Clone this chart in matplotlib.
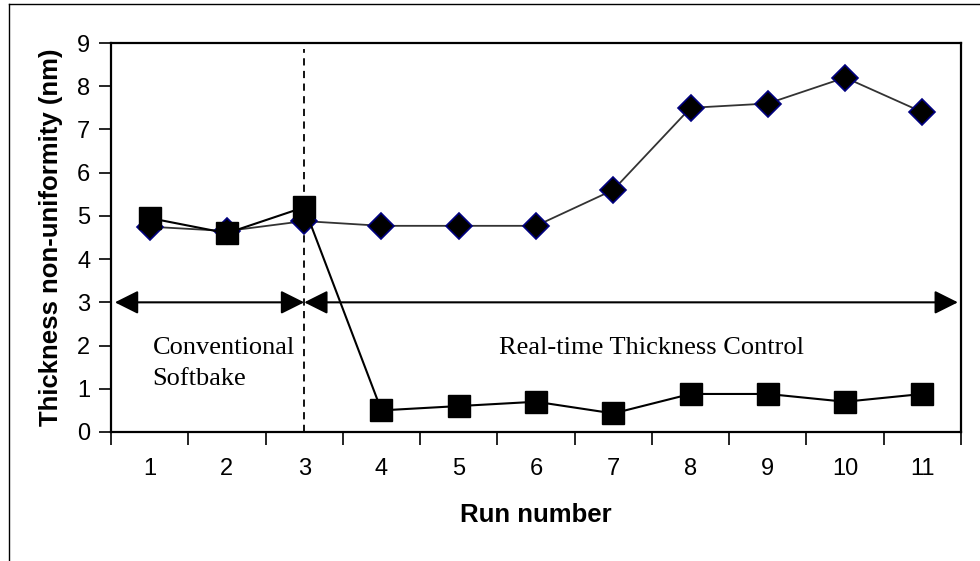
import numpy as np
import matplotlib.pyplot as plt
from matplotlib.lines import Line2D

runs = np.arange(1, 12)
run_labels = [str(r) for r in runs]
conventional_runs = [4.75, 4.65, 4.88, 4.77, 4.77, 4.77, 5.6, 7.5, 7.6, 8.2, 7.4]
controlled_runs = [4.95, 4.6, 5.2, 0.5, 0.6, 0.7, 0.43, 0.88, 0.88, 0.7, 0.88]

fig = plt.figure(figsize=(9.8, 5.61), dpi=100)
ax = fig.add_axes([111/980, 1 - 432/561, 850/980, 389/561])

# frame around the whole figure (top and left edges)
fig.add_artist(Line2D([9/980, 9/980], [0, 1 - 4/561], color='black', lw=1))
fig.add_artist(Line2D([9/980, 1], [1 - 4/561, 1 - 4/561], color='black', lw=1))

ax.plot(runs, conventional_runs, color='#333333', lw=1.3, marker='D', markersize=13,
        markerfacecolor='black', markeredgecolor='#000080', markeredgewidth=1.2, zorder=3)
ax.plot(runs, controlled_runs, color='black', lw=1.5, marker='s', markersize=15.5,
        markerfacecolor='black', markeredgecolor='black', zorder=4)

# boundary between the two process regimes
ax.plot([3, 3], [0, 8.85], color='black', lw=1.3, linestyle=(0, (4, 3)), zorder=2)

arrow = dict(arrowstyle='<|-|>,head_length=0.72,head_width=0.36', color='black',
             lw=1.5, mutation_scale=20, shrinkA=0, shrinkB=0)
ax.annotate('', xy=(0.55, 3), xytext=(3.0, 3), arrowprops=arrow)
ax.annotate('', xy=(3.0, 3), xytext=(11.46, 3), arrowprops=arrow)

ax.text(1.04, 1.8, 'Conventional', family='Liberation Serif', fontsize=19)
ax.text(1.04, 1.08, 'Softbake', family='Liberation Serif', fontsize=19)
ax.text(7.49, 1.8, 'Real-time Thickness Control', family='Liberation Serif',
        fontsize=19, ha='center')

ax.set_xlim(0.5, 11.5)
ax.set_ylim(0, 9)
ax.set_yticks(np.arange(0, 10))
ax.set_xticks(np.arange(0.5, 12, 1))
ax.set_xticklabels([])
ax.set_xticks(runs, minor=True)
ax.set_xticklabels(run_labels, minor=True)
ax.tick_params(axis='x', which='minor', length=0, pad=19)
ax.tick_params(axis='both', which='major', direction='out', length=9, width=1.2)
ax.tick_params(axis='y', pad=6)
for lab in ax.get_xticklabels(minor=True) + ax.get_yticklabels():
    lab.set_family('Liberation Sans')
    lab.set_fontsize(17)

for s in ax.spines.values():
    s.set_linewidth(1.6)

ax.set_xlabel('Run number', family='Liberation Sans', fontsize=18.5, fontweight='bold', labelpad=16)
ax.set_ylabel('Thickness non-uniformity (nm)', family='Liberation Sans', fontsize=18.5,
              fontweight='bold', labelpad=10)

fig.savefig('out.png', dpi=100)
